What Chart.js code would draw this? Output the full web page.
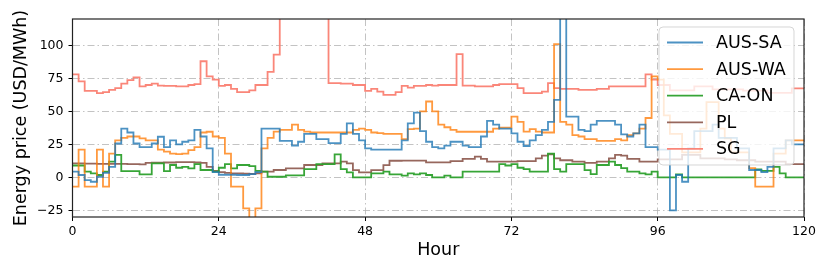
<!DOCTYPE html>
<html>
<head>
<meta charset="utf-8">
<script src="https://cdn.jsdelivr.net/npm/chart.js@4/dist/chart.umd.min.js"></script>
<style>
  body { margin: 0; background: #fff; }
  canvas { display: block; }
</style>
</head>
<body>
<canvas id="chart" width="830" height="277"></canvas>
<script>
// hourly prices, one value per hour 0..119 (drawn as steps)
const seriesNames = ['AUS-SA', 'AUS-WA', 'CA-ON', 'PL', 'SG'];
const seriesColors = ['rgba(31,119,180,0.8)', 'rgba(255,127,14,0.8)', 'rgba(44,160,44,0.95)', 'rgba(140,86,75,0.9)', 'rgba(250,128,114,0.95)'];

const ausSA = [
  4.3, 1.8, -2, -3.3, 0.5, 3.5, 8, 25.7, 37, 34,
  25.7, 23, 23, 25.7, 30.8, 23, 28, 25, 27, 28,
  36, 31, 22, 4, 2, 2, 2, 1.8, 1.8, 2.5,
  4, 37, 37, 37, 27.6, 27.6, 24, 27, 33, 33,
  29, 29, 26, 26, 33, 41, 33, 28, 22, 21,
  21, 21, 21, 21, 28, 41, 49, 35, 27, 23,
  22, 24, 27, 27, 24, 23, 23, 31, 42.8, 40,
  37, 37, 33.4, 27, 23.8, 28, 32, 36, 42, 58.7,
  200, 46, 46, 36, 35, 40, 42.8, 42.8, 42.8, 40,
  32.6, 31, 33.4, 40, 23, 23, 21, 21, -25, 1.8,
  -3.3, 22, 35, 35, 35, 40, 30, 30, 30, 22,
  22, 5.6, 5.6, 4, 8, 22, 22, 28, 25, 25
];
const ausWA = [
  -7, 21, -7, -7, 21, -7, 18, 28, 30, 31,
  31, 29.5, 28, 28, 21, 19.5, 18, 17.7, 18, 20.7,
  23, 34, 34.6, 31, 30, 18, -7, -7, -23.5, -35,
  -23.5, 22, 30, 34.7, 36, 36, 40, 36, 34.7, 34,
  34, 34, 34, 34, 34, 34, 36, 37, 36, 34,
  33.5, 33, 33, 33, 29, 36.5, 37, 50, 57.5, 50,
  40, 38, 36, 34.6, 34.6, 34.6, 34.6, 34.6, 34.6, 37,
  37.7, 37.7, 46, 42, 34.7, 36.5, 34.7, 34, 34, 101,
  42, 40, 32, 31, 29, 29, 27.6, 27.6, 27.6, 29,
  28, 32, 33.4, 37, 45, 76.5, 74, 47, 33, 33,
  19, 19, 19, 37, 57, 57, 37, 29.5, 19, 19,
  19, 7, -7, -7, -7, 18, 18, 28, 28, 28
];
const caON = [
  9, 9, 4.3, 3, 1.8, 4.3, 12, 17, 4.8, 4.8,
  4.8, 2.3, 2.3, 10.6, 10.6, 4.8, 9.4, 7.3, 8, 6.8,
  10, 5.6, 5.6, 4.3, 7.3, 10, 6.8, 9.4, 9.4, 8.6,
  5, 4.3, 0.5, 0.5, 0.5, 1.5, 1.5, 1.5, 6.3, 6.3,
  10, 10, 10, 17.5, 6.3, 3.8, 0, 0, 0, 3,
  3, 4.3, 2.3, 2.3, 1.3, 3, 2.3, 3, 1.8, 0,
  0, 1.3, 0, 0, 4.3, 4.3, 4.3, 4.3, 4.3, 4.3,
  10, 9, 10, 7.3, 6.3, 4.3, 4.3, 4.3, 18, 6.3,
  4.3, 10, 10, 10, 5.5, 2.5, 9.4, 9.4, 12, 9.4,
  7, 4.3, 4.3, 3, 2.3, 4.3, 0, 0, 0, 2.3,
  0, 0, 0, 0, 0, 0, 0, 0, 0, 0,
  0, 0, 6, 5, 5, 8, 3, 0, 0, 0
];
const pl = [
  10.6, 10.6, 10.5, 10.4, 10.3, 10.2, 10.2, 10.3, 10.2, 10,
  10, 9.8, 11, 11.2, 11.2, 11.3, 11.3, 11.5, 11.5, 11.5,
  11.3, 11, 8, 5, 4, 3.5, 3, 3, 2.8, 2.6,
  3, 4.3, 4.3, 5.6, 5.6, 6.8, 6.8, 6.8, 9.4, 9.4,
  9.4, 10.6, 10.6, 10.6, 12, 10.6, 5.5, 3.8, 3.8, 5.5,
  5.5, 9.3, 12.6, 12.6, 12.7, 12.7, 12.7, 12.7, 11.4, 11.4,
  11.4, 11.4, 12.4, 12.4, 14, 14, 15.7, 14, 12, 12,
  12, 12, 12, 12.4, 12.4, 12.4, 14.4, 16.5, 17.5, 14.4,
  13, 13, 12, 12, 11, 11, 12, 12, 14.4, 17,
  16.5, 14, 14, 12, 12, 12, 13.6, 13.6, 13.6, 13.6,
  17, 17, 17, 14.4, 14.4, 14.4, 14.4, 13.6, 13.6, 13,
  13, 13, 12, 12, 12, 12, 12, 10, 10, 10
];
const sg = [
  78, 72.7, 65.6, 65.6, 63.8, 64.6, 66.3, 67.6, 71, 73.7,
  75.8, 69, 70, 71, 69.6, 69.4, 69.4, 68.9, 68.9, 70,
  70.6, 88, 76.5, 74, 69.4, 70, 67, 64.6, 64.6, 66,
  70, 70, 80, 93, 150, 150, 150, 150, 150, 150,
  150, 150, 71.4, 71.4, 71, 71, 70, 70, 65.6, 67,
  65, 62.5, 62.5, 64.6, 69.4, 68, 69.4, 69.4, 70, 69.6,
  70, 70, 70, 93.4, 69.6, 69.6, 69, 69, 69, 70,
  70.6, 70.6, 70.6, 67.6, 63.8, 63.8, 63.8, 65, 71.4, 67.6,
  67, 67, 67, 66.3, 66.3, 66.3, 67, 67, 68.9, 68.9,
  68.9, 68.9, 68.9, 68.9, 78, 74, 70, 70, 66, 66,
  66, 66, 69, 69, 69, 66.7, 66.7, 66.7, 66.7, 66.7,
  65.7, 65.7, 65.7, 65.7, 64, 64, 64, 64, 67.4, 67.4
];

const xTicks = [0, 24, 48, 72, 96, 120];
const yTicks = [-25, 0, 25, 50, 75, 100];

// step line: each value holds until the next hour, last one until hour 120
function toSteps(values) {
    const pts = values.map((v, i) => ({ x: i, y: v }));
    pts.push({ x: values.length, y: values[values.length - 1] });
    return pts;
}

const allSeries = [ausSA, ausWA, caON, pl, sg];
const datasets = allSeries.map((vals, i) => ({
    label: seriesNames[i],
    data: toSteps(vals),
    borderColor: seriesColors[i],
    backgroundColor: seriesColors[i],
    borderWidth: 1.8,
    stepped: 'before',   // chart.js 'before' = hold previous value, then jump
    pointRadius: 0,
    fill: false
}));

const labelFont = { family: 'DejaVu Sans', size: 17.5 };
const tickFont = { family: 'DejaVu Sans', size: 12.5 };

// frame and legend box on top of the lines, like the original
const framePlugin = {
    id: 'frameAndLegend',
    afterDraw(chart) {
        const ctx = chart.ctx;
        const a = chart.chartArea;
        ctx.save();
        ctx.strokeStyle = '#222';
        ctx.lineWidth = 1.2;
        ctx.strokeRect(a.left, a.top, a.right - a.left, a.bottom - a.top);

        // legend, upper right
        const bx = 659, by = 27, bw = 135, bh = 138;
        ctx.fillStyle = 'rgba(255,255,255,0.8)';
        ctx.strokeStyle = 'rgba(204,204,204,0.8)';
        ctx.lineWidth = 1;
        ctx.beginPath();
        ctx.roundRect(bx, by, bw, bh, 4);
        ctx.fill();
        ctx.stroke();

        ctx.font = '17.5px "DejaVu Sans"';
        ctx.textBaseline = 'middle';
        chart.data.datasets.forEach((ds, i) => {
            const y = 42.5 + i * 26.6;
            ctx.strokeStyle = ds.borderColor;
            ctx.lineWidth = 1.8;
            ctx.beginPath();
            ctx.moveTo(667, y);
            ctx.lineTo(703, y);
            ctx.stroke();
            ctx.fillStyle = '#000';
            ctx.fillText(ds.label, 716, y + 1);
        });
        ctx.restore();
    }
};

new Chart(document.getElementById('chart'), {
    type: 'line',
    data: { datasets: datasets },
    options: {
        responsive: false,
        animation: false,
        devicePixelRatio: 1,
        layout: { padding: { left: 0, right: 26, top: 19, bottom: 0 } },
        plugins: { legend: { display: false }, tooltip: { enabled: false } },
        scales: {
            x: {
                type: 'linear',
                min: 0,
                max: 120,
                afterBuildTicks: axis => { axis.ticks = xTicks.map(v => ({ value: v })); },
                afterFit: scale => { scale.height = 60; },
                ticks: { color: '#000', font: tickFont, padding: 3, maxRotation: 0 },
                grid: { color: 'rgba(176,176,176,0.85)', lineWidth: 0.9, tickLength: 4, tickColor: '#000', tickWidth: 1 },
                border: { display: false, dash: [7, 3, 1.5, 3] },
                title: { display: true, text: 'Hour', color: '#000', font: labelFont, padding: { top: 0, bottom: 16 } }
            },
            y: {
                min: -30,
                max: 120,
                afterBuildTicks: axis => { axis.ticks = yTicks.map(v => ({ value: v })); },
                afterFit: scale => { scale.width = 72.5; },
                ticks: {
                    color: '#000', font: tickFont, padding: 5,
                    callback: v => (v < 0 ? '\u2212' + Math.abs(v) : '' + v)
                },
                grid: { color: 'rgba(176,176,176,0.85)', lineWidth: 0.9, tickLength: 4, tickColor: '#000', tickWidth: 1 },
                border: { display: false, dash: [7, 3, 1.5, 3] },
                title: { display: true, text: 'Energy price (USD/MWh)', color: '#000', font: labelFont, padding: { top: 11, bottom: 0 } }
            }
        }
    },
    plugins: [framePlugin]
});
</script>
</body>
</html>
